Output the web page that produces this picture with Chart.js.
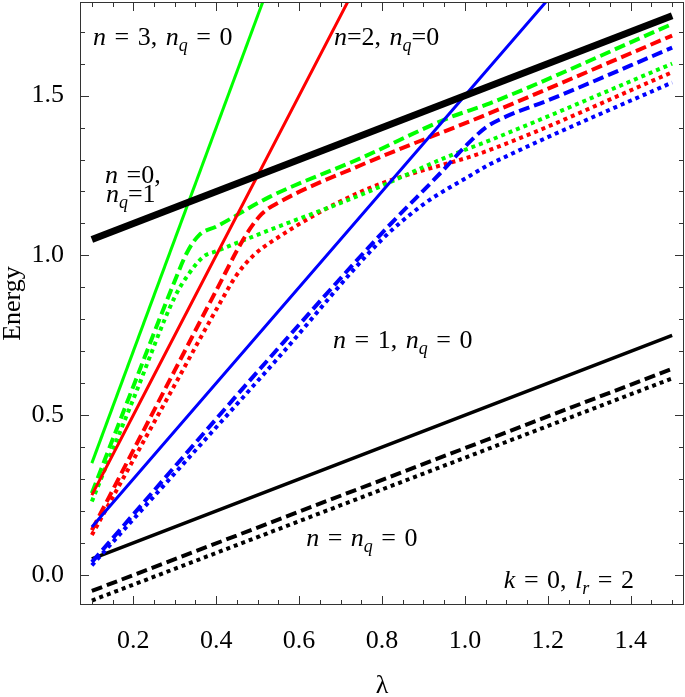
<!DOCTYPE html>
<html><head><meta charset="utf-8">
<script src="https://cdn.jsdelivr.net/npm/chart.js@4/dist/chart.umd.min.js"></script>
<style>html,body{margin:0;padding:0;background:#fff}</style>
</head><body>
<canvas id="c" width="685" height="697"></canvas>
<script>
// ---- data ----
const thickX = [0.1, 1.5];
const thickY = [1.05, 1.75];            // n = 0, n_q = 1
const blackSolidX = [0.1, 1.5];
const blackSolidY = [0.05, 0.75];
const blackDashX = [0.1, 1.5];
const blackDashY = [-0.05, 0.645];
const blackDotX = [0.1, 1.5];
const blackDotY = [-0.08, 0.615];
const blueSolidX = [0.1, 0.8, 1.5];
const blueSolidY = [0.15, 1.2, 2.25];
const redSolidX = [0.1, 0.8, 1.5];
const redSolidY = [0.25, 2.0, 3.75];
const greenSolidX = [0.1, 0.8, 1.5];
const greenSolidY = [0.35, 2.8, 5.25];
const greenDashX = [0.1, 0.2, 0.3, 0.33, 0.36, 0.4, 0.53, 0.75, 0.96, 1.06, 1.5];
const greenDashY = [0.256, 0.59, 0.92, 1.01, 1.065, 1.09, 1.184, 1.305, 1.43, 1.476, 1.724];
const greenDotX = [0.1, 0.2, 0.3, 0.33, 0.37, 0.4, 0.53, 0.75, 0.96, 1.06, 1.5];
const greenDotY = [0.23, 0.55, 0.87, 0.935, 0.997, 1.013, 1.08, 1.19, 1.31, 1.36, 1.60];
const redDashX = [0.1, 0.2, 0.3, 0.4, 0.47, 0.51, 0.55, 0.75, 1.06, 1.5];
const redDashY = [0.14, 0.39, 0.64, 0.89, 1.06, 1.13, 1.165, 1.283, 1.445, 1.688];
const redDotX = [0.1, 0.2, 0.3, 0.4, 0.45, 0.49, 0.53, 0.75, 1.06, 1.5];
const redDotY = [0.125, 0.36, 0.595, 0.83, 0.94, 1.0, 1.04, 1.20, 1.33, 1.573];
const blueDashX = [0.1, 0.55, 0.8, 0.95, 1.0, 1.05, 1.1, 1.2, 1.5];
const blueDashY = [0.04, 0.71, 1.07, 1.27, 1.34, 1.40, 1.435, 1.485, 1.65];
const blueDotX = [0.1, 0.55, 0.8, 0.9, 0.96, 1.0, 1.06, 1.1, 1.2, 1.5];
const blueDotY = [0.03, 0.68, 1.05, 1.16, 1.21, 1.24, 1.285, 1.31, 1.37, 1.541];

const xMajor = [0.2, 0.4, 0.6, 0.8, 1.0, 1.2, 1.4];
const xMinor = [0.1, 0.15, 0.25, 0.3, 0.35, 0.45, 0.5, 0.55, 0.65, 0.7, 0.75, 0.85, 0.9, 0.95, 1.05, 1.1, 1.15, 1.25, 1.3, 1.35, 1.45, 1.5];
const yMajor = [0.0, 0.5, 1.0, 1.5];
const yMinor = [0.1, 0.2, 0.3, 0.4, 0.6, 0.7, 0.8, 0.9, 1.1, 1.2, 1.3, 1.4, 1.6, 1.7];

// ---- helpers ----
const pts = (xs, ys) => xs.map((x, i) => ({x, y: ys[i]}));
const SERIF = '"Liberation Serif", "Times New Roman", serif';

function ds(xs, ys, color, width, dash) {
  return {
    data: pts(xs, ys), borderColor: color, borderWidth: width,
    borderDash: dash || [], borderCapStyle: 'butt', pointRadius: 0,
    fill: false, tension: 0.4, cubicInterpolationMode: 'monotone', clip: 0
  };
}

const DASH = [11, 5], DOT = [4, 4];
const datasets = [
  ds(thickX, thickY, '#000', 7),
  ds(greenSolidX, greenSolidY, '#00ff00', 3),
  ds(redSolidX, redSolidY, '#ff0000', 3),
  ds(blueSolidX, blueSolidY, '#0000ff', 3),
  ds(greenDashX, greenDashY, '#00ff00', 4, DASH),
  ds(redDashX, redDashY, '#ff0000', 4, DASH),
  ds(blueDashX, blueDashY, '#0000ff', 4, DASH),
  ds(greenDotX, greenDotY, '#00ff00', 4, DOT),
  ds(redDotX, redDotY, '#ff0000', 4, DOT),
  ds(blueDotX, blueDotY, '#0000ff', 4, DOT),
  ds(blackSolidX, blackSolidY, '#000', 3.5),
  ds(blackDashX, blackDashY, '#000', 4, DASH),
  ds(blackDotX, blackDotY, '#000', 4, DOT)
];

// annotation labels: [x, y] in data units, rich parts
const I = (t) => ({t, i: true});
const S = (t) => ({t, i: true, sub: true});
const N = (t) => ({t});
const labels = [
  {at: [0.103, 1.659], parts: [I('n'), N(' = 3, '), I('n'), S('q'), N(' = 0')]},
  {at: [0.684, 1.659], parts: [I('n'), N('=2, '), I('n'), S('q'), N('=0')]},
  {at: [0.132, 1.227], parts: [I('n'), N(' =0,')]},
  {at: [0.134, 1.168], parts: [I('n'), S('q'), N('=1')]},
  {at: [0.682, 0.711], parts: [I('n'), N(' = 1, '), I('n'), S('q'), N(' = 0')]},
  {at: [0.617, 0.092], parts: [I('n'), N(' = '), I('n'), S('q'), N(' = 0')]},
  {at: [1.094, -0.040], parts: [I('k'), N(' = 0, '), I('l'), S('r'), N(' = 2')]}
];
const SPACE = 8.5;

const framePlugin = {
  id: 'frame',
  afterDatasetsDraw(chart) {
    const {ctx, chartArea: a, scales: {x, y}} = chart;
    ctx.save();
    ctx.strokeStyle = '#333';
    ctx.lineWidth = 1;
    ctx.strokeRect(a.left + 0.5, a.top + 0.5, a.right - a.left - 1, a.bottom - a.top - 1);
    ctx.beginPath();
    const tx = (v, len) => {
      const p = Math.round(x.getPixelForValue(v)) + 0.5;
      ctx.moveTo(p, a.bottom); ctx.lineTo(p, a.bottom - len);
      ctx.moveTo(p, a.top); ctx.lineTo(p, a.top + len);
    };
    const ty = (v, len) => {
      const p = Math.round(y.getPixelForValue(v)) + 0.5;
      ctx.moveTo(a.left, p); ctx.lineTo(a.left + len, p);
      ctx.moveTo(a.right, p); ctx.lineTo(a.right - len, p);
    };
    xMajor.forEach(v => tx(v, 9)); xMinor.forEach(v => tx(v, 5));
    yMajor.forEach(v => ty(v, 9)); yMinor.forEach(v => ty(v, 5));
    ctx.stroke();

    // labels
    ctx.fillStyle = '#000';
    ctx.textBaseline = 'alphabetic';
    labels.forEach(l => {
      let px = x.getPixelForValue(l.at[0]);
      const py = y.getPixelForValue(l.at[1]);
      l.parts.forEach(p => {
        const size = p.sub ? 18 : 26;
        ctx.font = (p.i ? 'italic ' : '') + size + 'px ' + SERIF;
        p.t.split(/( )/).forEach(seg => {
          if (seg === ' ') { px += SPACE; return; }
          if (!seg) return;
          ctx.fillText(seg, px, py + (p.sub ? 6 : 0));
          px += ctx.measureText(seg).width;
        });
      });
    });
    ctx.restore();
  }
};

new Chart(document.getElementById('c'), {
  type: 'line',
  data: {datasets},
  options: {
    responsive: false, animation: false, devicePixelRatio: 1,
    layout: {padding: {top: 2, right: 1, left: 0, bottom: 0}},
    plugins: {legend: {display: false}, tooltip: {enabled: false}},
    scales: {
      x: {
        type: 'linear', min: 0.0714, max: 1.5286,
        afterBuildTicks: s => { s.ticks = xMajor.map(v => ({value: v})); },
        afterFit: s => { s.height = 92; s.paddingLeft = 0; s.paddingRight = 0; },
        grid: {display: false}, border: {display: false},
        ticks: {color: '#000', font: {family: SERIF, size: 26}, padding: 13, maxRotation: 0, autoSkip: false,
                callback: v => v.toFixed(1)},
        title: {display: true, text: 'λ', color: '#000', font: {family: SERIF, size: 26, lineHeight: 1}, padding: {top: 0, bottom: -2}}
      },
      y: {
        type: 'linear', min: -0.094, max: 1.793,
        afterBuildTicks: s => { s.ticks = yMajor.map(v => ({value: v})); },
        afterFit: s => { s.width = 80; s.paddingTop = 0; s.paddingBottom = 0; },
        grid: {display: false}, border: {display: false},
        ticks: {color: '#000', font: {family: SERIF, size: 26}, padding: 8, autoSkip: false,
                callback: v => v.toFixed(1)},
        title: {display: true, text: 'Energy', color: '#000', font: {family: SERIF, size: 26, lineHeight: 1}, padding: {top: 0, bottom: 0}}
      }
    }
  },
  plugins: [framePlugin]
});
</script>
</body></html>
